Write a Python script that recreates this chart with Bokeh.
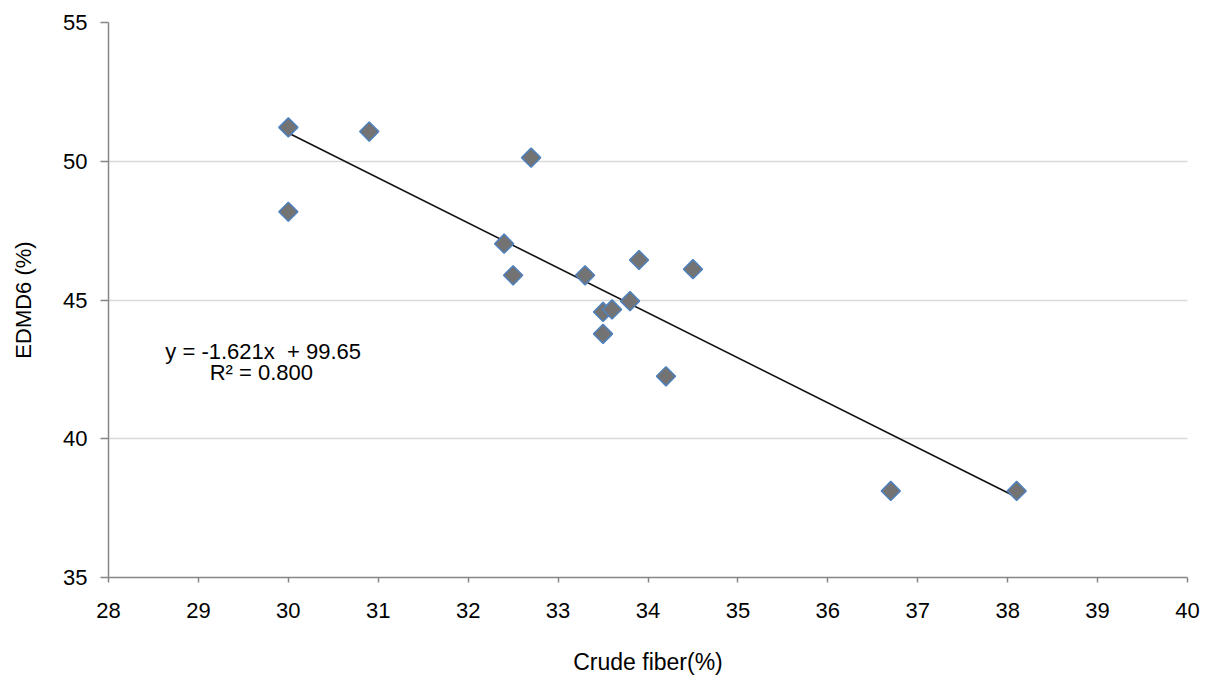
import math
from bokeh.plotting import figure
from bokeh.models import Range1d, FixedTicker, Label
from bokeh.embed import file_html
from bokeh.resources import INLINE

# ---- data ----
crude_fiber = [30.0, 30.0, 30.9, 32.7, 32.4, 32.5, 33.3, 33.9, 34.5, 33.8, 33.5, 33.6, 33.5, 34.2, 36.7, 38.1]
edmd6 = [51.22, 48.18, 51.07, 50.13, 47.03, 45.89, 45.89, 46.44, 46.11, 44.96, 44.57, 44.66, 43.78, 42.25, 38.12, 38.12]

slope = -1.621
intercept = 99.65
r_squared = 0.800
fit_x = [min(crude_fiber), max(crude_fiber)]
fit_y = [slope * v + intercept for v in fit_x]

x_ticks = list(range(28, 41))
y_ticks = [35, 40, 45, 50, 55]

FONT = "Liberation Sans"

p = figure(width=1206, height=679, output_backend="svg", toolbar_location=None,
           x_range=Range1d(28, 40), y_range=Range1d(35, 55),
           min_border_left=108, min_border_right=19, min_border_top=22, min_border_bottom=102)
p.outline_line_color = None
p.background_fill_color = "white"
p.border_fill_color = "white"

# grid
p.xgrid.grid_line_color = None
p.ygrid.grid_line_color = "#d9d9d9"
p.ygrid.grid_line_width = 1.5
p.ygrid.ticker = FixedTicker(ticks=y_ticks)

# axes
p.xaxis.ticker = FixedTicker(ticks=x_ticks)
p.yaxis.ticker = FixedTicker(ticks=y_ticks)
for ax in (p.xaxis[0], p.yaxis[0]):
    ax.axis_line_color = "#868686"
    ax.axis_line_width = 1.5
    ax.major_tick_line_color = "#868686"
    ax.major_tick_line_width = 1.5
    ax.minor_tick_line_color = None
    ax.major_tick_in = 0
    ax.major_label_text_font = FONT
    ax.major_label_text_font_size = "22px"
    ax.major_label_text_color = "black"
    ax.axis_label_text_font = FONT
    ax.axis_label_text_font_size = "22px"
    ax.axis_label_text_font_style = "normal"
    ax.axis_label_text_color = "black"

p.xaxis.axis_label_text_font_size = "23px"
p.xaxis.major_tick_out = 5
p.yaxis.major_tick_out = 8
p.xaxis.major_label_standoff = 20
p.yaxis.major_label_standoff = 13
p.xaxis.axis_label = "Crude fiber(%)"
p.yaxis.axis_label = "EDMD6 (%)"
p.xaxis.axis_label_standoff = 28
p.yaxis.axis_label_standoff = 24

# trend line
p.line(fit_x, fit_y, line_color="#111111", line_width=1.6)

# points
p.scatter(crude_fiber, edmd6, marker="square", size=13.5, angle=math.pi / 4,
          fill_color="#737373", line_color="#4F81BD", line_width=1.5)

# equation text
eq1 = "y = -1.621x\u00a0 + 99.65"
eq2 = "R\u00b2 = 0.800"
p.add_layout(Label(x=29.72, y=43.14, text=eq1, text_align="center", text_baseline="alphabetic",
                   text_font=FONT, text_font_size="22px", text_color="black"))
p.add_layout(Label(x=29.70, y=42.37, text=eq2, text_align="center", text_baseline="alphabetic",
                   text_font=FONT, text_font_size="22px", text_color="black"))

open("out.html", "w").write(file_html(p, INLINE))
